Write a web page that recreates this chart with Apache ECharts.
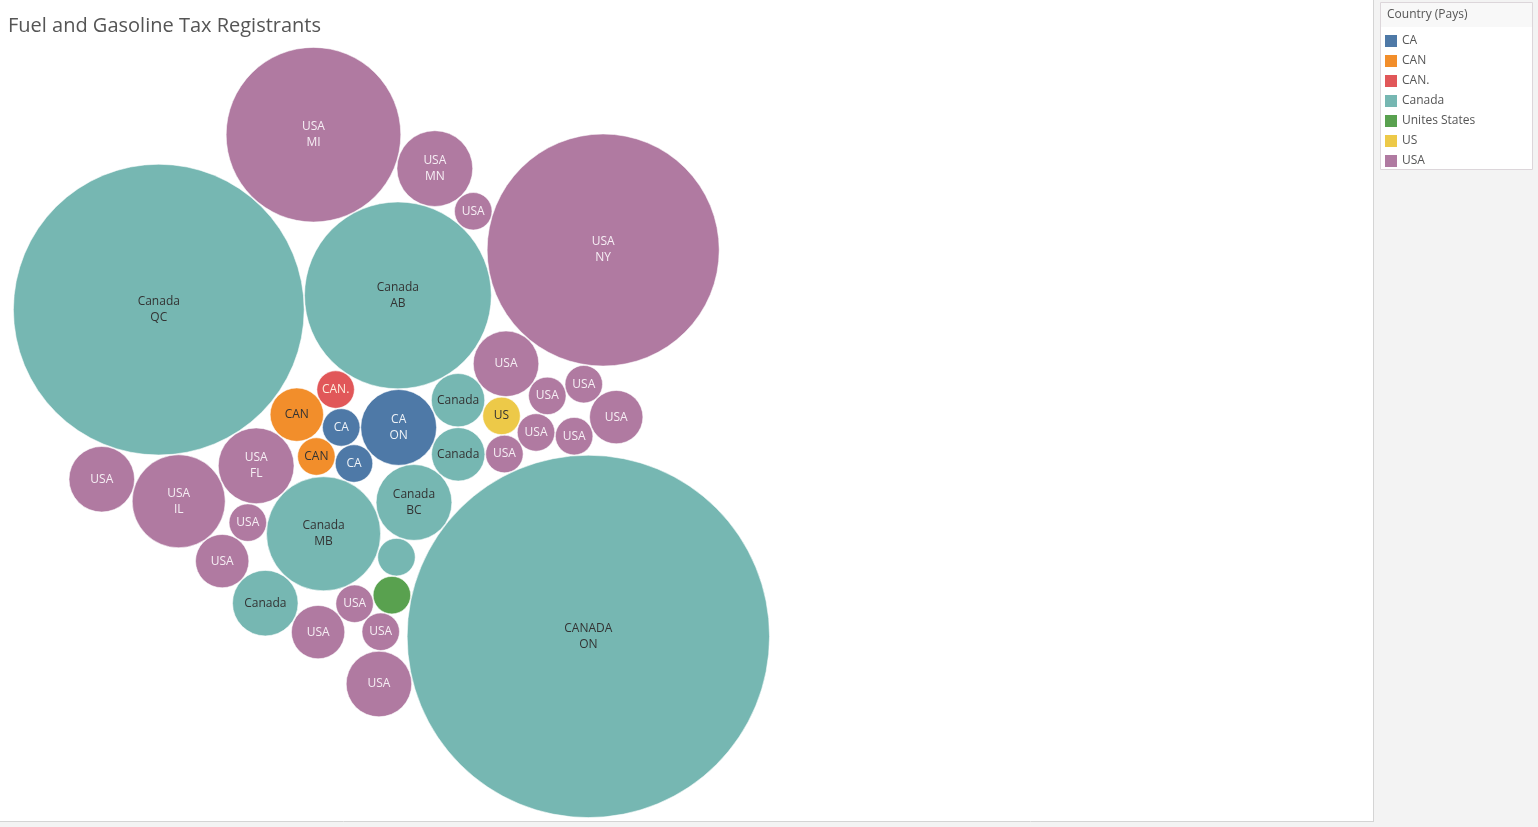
<!DOCTYPE html>
<html>
<head>
<meta charset="utf-8">
<title>Fuel and Gasoline Tax Registrants</title>
<script src="https://cdn.jsdelivr.net/npm/echarts@6/dist/echarts.min.js"></script>
<style>
  html, body { margin: 0; padding: 0; background: #fff; }
  #chart { width: 1538px; height: 827px; }
</style>
</head>
<body>
<div id="chart"></div>
<script>
// one entry per bubble, in the order they are packed
const countries = [
  'CA', 'CA', 'CA', 'CAN', 'CAN', 'CAN.',
  'Canada', 'Canada', 'Canada', 'Canada', 'Canada', 'USA', 'Canada',
  'USA', 'USA', 'USA', 'USA', 'USA', 'US', 'USA',
  'CANADA', 'Canada', 'USA', 'Unites States', 'USA', 'USA', 'USA', 'Canada',
  'USA', 'USA', 'USA', 'USA', 'USA', 'USA', 'USA', 'USA', 'USA'
]
const provinces = [
  '', 'ON', '', '', '', '',
  'AB', '', '', 'BC', 'MB', 'FL', 'QC',
  'MI', 'MN', '', 'NY', '', '', '',
  'ON', '', '', '', 'IL', '', '', '',
  '', '', '', '', '', '', '', '', ''
]
const registrants = [
  1, 4, 1, 1, 2, 1,
  24, 2, 2, 4, 9, 4, 58,
  21, 4, 1, 37, 3, 1, 1,
  90, 1, 1, 1, 6, 1, 2, 3,
  1, 1, 1, 2, 1, 1, 3, 2, 3
]
// legend order
const countryGroups = ['CA', 'CAN', 'CAN.', 'Canada', 'Unites States', 'US', 'USA']

const palette = {
  'CA': '#4e79a7', 'CAN': '#f28e2b', 'CAN.': '#e15759', 'Canada': '#76b7b2',
  'Unites States': '#59a14f', 'US': '#edc948', 'USA': '#b07aa1'
}
const labelColors = {
  'CA': '#eef2f7', 'CAN': '#333333', 'CAN.': '#fdeede', 'Canada': '#333333',
  'Unites States': '#ffffff', 'US': '#333333', 'USA': '#f6eef4'
}
const FONT = '12px "Open Sans"'

function groupOf(country) {
  return countryGroups.find(g => g.toLowerCase() === country.toLowerCase())
}

// front-chain circle packing (old d3 pack layout); once the largest bubble
// is down, each later bubble goes into the front-chain gap nearest the centre
function placeCircle(a, b, c) {
  let db = a.r + c.r
  const dx = b.x - a.x, dy = b.y - a.y
  if (db && (dx || dy)) {
    let da = b.r + c.r
    const dc = dx * dx + dy * dy
    da *= da
    db *= db
    const x = 0.5 + (db - da) / (2 * dc)
    const y = Math.sqrt(Math.max(0, 2 * da * (db + dc) - (db -= dc) * db - da * da)) / (2 * dc)
    c.x = a.x + x * dx + y * dy
    c.y = a.y + x * dy - y * dx
  } else {
    c.x = a.x + db
    c.y = a.y
  }
}
function intersects(a, b) {
  const dx = b.x - a.x, dy = b.y - a.y, dr = a.r + b.r
  return 0.999 * dr * dr > dx * dx + dy * dy
}
function gapScore(n) {
  const a = n, b = n.next, ab = a.r + b.r
  const x = (a.x * b.r + b.x * a.r) / ab, y = (a.y * b.r + b.y * a.r) / ab
  return x * x + y * y
}
function insertAfter(a, b) {
  const c = a.next
  a.next = b; b.prev = a; b.next = c; c.prev = b
}
function splice(a, b) { a.next = b; b.prev = a }

function packCircles(nodes) {
  const largest = Math.max(...nodes.map(n => n.r))
  let fillGaps = false
  nodes.forEach(n => { n.next = n.prev = n })
  let a = nodes[0], b = nodes[1], c = nodes[2]
  a.x = -a.r; a.y = 0
  b.x = b.r; b.y = 0
  placeCircle(a, b, c)
  insertAfter(a, c); a.prev = c; insertAfter(c, b)
  b = a.next
  for (let i = 3; i < nodes.length; i++) {
    c = nodes[i]
    placeCircle(a, b, c)
    let isect = false, s1 = 1, s2 = 1, j, k
    for (j = b.next; j !== b; j = j.next, s1++) {
      if (intersects(j, c)) { isect = true; break }
    }
    if (isect) {
      for (k = a.prev; k !== j.prev; k = k.prev, s2++) {
        if (intersects(k, c)) break
      }
      if (s1 < s2 || (s1 === s2 && b.r < a.r)) { b = j; splice(a, b) }
      else { a = k; splice(a, b) }
      i--
      continue
    }
    insertAfter(a, c)
    b = c
    if (c.r === largest) fillGaps = true
    if (fillGaps) {
      let best = a, bestScore = gapScore(a)
      for (let n = a.next; n !== a; n = n.next) {
        const s = gapScore(n)
        if (s < bestScore) { best = n; bestScore = s }
      }
      a = best
      b = a.next
    }
  }
}

// bubble area follows the registrant count
const nodes = registrants.map((v, i) => ({ r: Math.sqrt(v), i: i, x: 0, y: 0 }))
packCircles(nodes)

let x0 = Infinity, x1 = -Infinity, y0 = Infinity, y1 = -Infinity
nodes.forEach(n => {
  x0 = Math.min(x0, n.x - n.r); x1 = Math.max(x1, n.x + n.r)
  y0 = Math.min(y0, n.y - n.r); y1 = Math.max(y1, n.y + n.r)
})
const plotTop = 47, plotHeight = 771
const plotWidth = plotHeight * (x1 - x0) / (y1 - y0)

const measure = document.createElement('canvas').getContext('2d')
measure.font = FONT
function labelFor(i, r) {
  const first = countries[i]
  if (measure.measureText(first).width > 2 * r - 6) return ''
  if (provinces[i] && r >= 30) return first + '\n' + provinces[i]
  return first
}

function renderBubble(params, api) {
  const c = api.coord([api.value(0), api.value(1)])
  const r = api.size([api.value(2), 0])[0]
  const i = api.value(3)
  const g = groupOf(countries[i])
  return {
    type: 'group',
    children: [
      {
        type: 'circle',
        shape: { cx: c[0], cy: c[1], r: r - 0.4 },
        style: { fill: palette[g], stroke: 'rgba(255,255,255,0.55)', lineWidth: 1 }
      },
      {
        type: 'text',
        style: {
          text: labelFor(i, r), x: c[0], y: c[1], align: 'center', verticalAlign: 'middle',
          fill: labelColors[g], font: FONT, lineHeight: 16
        }
      }
    ]
  }
}

const chart = echarts.init(document.getElementById('chart'))
chart.setOption({
  animation: false,
  title: {
    text: 'Fuel and Gasoline Tax Registrants',
    left: 3, top: 11,
    textStyle: { fontFamily: 'Open Sans', fontSize: 20, fontWeight: 'normal', color: '#555555' }
  },
  grid: { left: 13, top: plotTop, width: plotWidth, height: plotHeight },
  xAxis: { type: 'value', min: x0, max: x1, show: false },
  yAxis: { type: 'value', min: y0, max: y1, show: false },
  legend: {
    orient: 'vertical', left: 1380, top: 30, z: 5,
    itemWidth: 12, itemHeight: 12, itemGap: 8, icon: 'rect',
    selectedMode: false,
    textStyle: { fontFamily: 'Open Sans', fontSize: 12, color: '#555555' },
    data: countryGroups
  },
  graphic: [
    { type: 'rect', z: 0, shape: { x: 1374, y: 0, width: 164, height: 827 }, style: { fill: '#f3f3f3' } },
    { type: 'rect', z: 0, shape: { x: 0, y: 822, width: 1374, height: 5 }, style: { fill: '#f3f3f3' } },
    { type: 'line', z: 1, shape: { x1: 1373.5, y1: 0, x2: 1373.5, y2: 822 }, style: { stroke: '#d4d4d4', lineWidth: 1 } },
    { type: 'line', z: 1, shape: { x1: 0, y1: 821.5, x2: 1374, y2: 821.5 }, style: { stroke: '#d4d4d4', lineWidth: 1 } },
    { type: 'rect', z: 1, shape: { x: 1380.5, y: 2.5, width: 152, height: 167 }, style: { fill: '#ffffff', stroke: '#dcd6da', lineWidth: 1 } },
    { type: 'rect', z: 1, shape: { x: 1381, y: 3, width: 151, height: 24 }, style: { fill: '#f8f8f8' } },
    {
      type: 'text', z: 2, x: 1387, y: 15,
      style: { text: 'Country (Pays)', font: FONT, fill: '#555555', verticalAlign: 'middle' }
    }
  ],
  series: countryGroups.map(g => ({
    name: g,
    type: 'custom',
    coordinateSystem: 'cartesian2d',
    itemStyle: { color: palette[g] },
    clip: false,
    renderItem: renderBubble,
    encode: { x: 0, y: 1 },
    data: nodes.filter(n => groupOf(countries[n.i]) === g).map(n => [n.x, n.y, n.r, n.i])
  }))
})
</script>
</body>
</html>
